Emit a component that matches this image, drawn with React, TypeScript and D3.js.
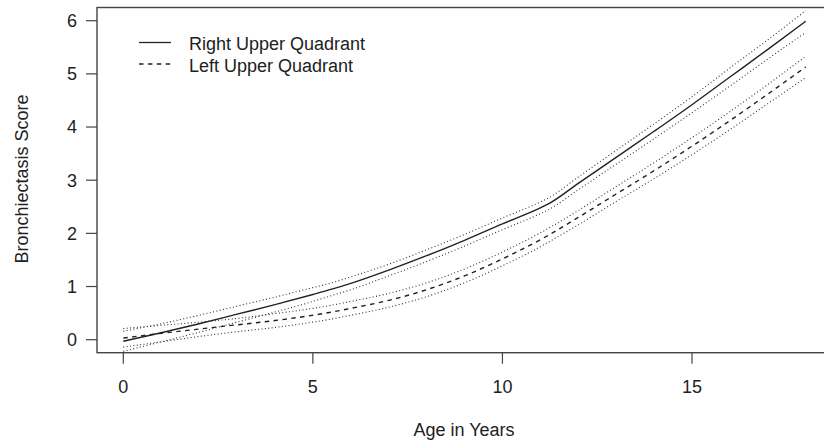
import React from "react";
import * as d3 from "d3";

const ages = [0, 1, 2, 3, 4, 5, 5.5, 6, 7, 8, 9, 10, 11, 11.2, 12, 13, 14, 15, 16, 17, 18];

const ruqFit = [-0.03, 0.13, 0.30, 0.48, 0.66, 0.85, 0.95, 1.06, 1.31, 1.58, 1.87, 2.18, 2.48, 2.55, 2.94, 3.43, 3.92, 4.42, 4.94, 5.46, 5.99];
const ruqUpper = [0.16, 0.30, 0.46, 0.63, 0.80, 0.98, 1.07, 1.18, 1.42, 1.69, 1.98, 2.29, 2.59, 2.66, 3.06, 3.56, 4.06, 4.57, 5.11, 5.64, 6.19];
const ruqLower = [-0.22, -0.04, 0.14, 0.33, 0.52, 0.72, 0.83, 0.94, 1.20, 1.47, 1.76, 2.07, 2.37, 2.44, 2.82, 3.30, 3.78, 4.27, 4.77, 5.28, 5.78];

const luqFit = [0.03, 0.12, 0.20, 0.28, 0.36, 0.46, 0.52, 0.59, 0.74, 0.94, 1.20, 1.52, 1.88, 1.96, 2.30, 2.74, 3.18, 3.64, 4.12, 4.62, 5.13];
const luqUpper = [0.21, 0.27, 0.33, 0.40, 0.49, 0.59, 0.65, 0.72, 0.87, 1.07, 1.33, 1.65, 2.01, 2.09, 2.43, 2.88, 3.33, 3.80, 4.29, 4.80, 5.33];
const luqLower = [-0.14, -0.04, 0.06, 0.15, 0.23, 0.33, 0.39, 0.46, 0.61, 0.81, 1.07, 1.39, 1.75, 1.83, 2.16, 2.60, 3.03, 3.48, 3.95, 4.44, 4.93];

const xTicks = [0, 5, 10, 15];
const yTicks = [0, 1, 2, 3, 4, 5, 6];
const legendLabels = ["Right Upper Quadrant", "Left Upper Quadrant"];
const xTitle = "Age in Years";
const yTitle = "Bronchiectasis Score";

const W = 824;
const H = 445;
const box = { left: 97, top: 7.5, right: 833, bottom: 352.7 };
const FONT = "'Liberation Sans', Arial, Helvetica, sans-serif";
const FS = 18;

export default function App() {
  const x = d3.scaleLinear().domain([0, 15]).range([123.3, 692]);
  const y = d3.scaleLinear().domain([0, 6]).range([339.7, 20.7]);

  const mk = (vals: number[]) =>
    d3
      .line<number>()
      .x((_, i) => x(ages[i]))
      .y((v) => y(v))
      .curve(d3.curveMonotoneX)(vals) || "";

  const ink = "#222";
  const axisCol = "#444";

  return (
    <svg
      width={W}
      height={H}
      style={{ position: "absolute", left: 0, top: 0, background: "#fff" }}
      fontFamily={FONT}
    >
      <rect x={0} y={0} width={W} height={H} fill="#fff" />
      <rect
        x={box.left}
        y={box.top}
        width={box.right - box.left}
        height={box.bottom - box.top}
        fill="none"
        stroke={axisCol}
        strokeWidth={1.4}
      />
      {xTicks.map((t) => (
        <g key={"x" + t}>
          <line x1={x(t)} x2={x(t)} y1={box.bottom} y2={box.bottom + 11} stroke={axisCol} strokeWidth={1.2} />
          <text x={x(t)} y={392.5} textAnchor="middle" fontSize={FS} fill={ink}>
            {t}
          </text>
        </g>
      ))}
      {yTicks.map((t) => (
        <g key={"y" + t}>
          <line x1={box.left - 11} x2={box.left} y1={y(t)} y2={y(t)} stroke={axisCol} strokeWidth={1.2} />
          <text x={77} y={y(t) + 6.4} textAnchor="end" fontSize={FS} fill={ink}>
            {t}
          </text>
        </g>
      ))}
      <text x={464} y={435.5} textAnchor="middle" fontSize={FS} fill={ink}>
        {xTitle}
      </text>
      <text transform={`translate(28,179) rotate(-90)`} textAnchor="middle" fontSize={FS} fill={ink}>
        {yTitle}
      </text>

      {[ruqUpper, ruqLower, luqUpper, luqLower].map((s, i) => (
        <path key={"ci" + i} d={mk(s)} fill="none" stroke="#333" strokeWidth={1.1} strokeDasharray="1 2.4" />
      ))}
      <path d={mk(ruqFit)} fill="none" stroke={ink} strokeWidth={1.4} />
      <path d={mk(luqFit)} fill="none" stroke={ink} strokeWidth={1.4} strokeDasharray="4.5 4.4" />

      <line x1={139} x2={171} y1={42.5} y2={42.5} stroke={ink} strokeWidth={1.3} />
      <line x1={139} x2={171} y1={64} y2={64} stroke={ink} strokeWidth={1.3} strokeDasharray="4.5 4.4" />
      <text x={189} y={50} fontSize={FS} fill={ink}>
        {legendLabels[0]}
      </text>
      <text x={189} y={71.5} fontSize={FS} fill={ink}>
        {legendLabels[1]}
      </text>
    </svg>
  );
}
